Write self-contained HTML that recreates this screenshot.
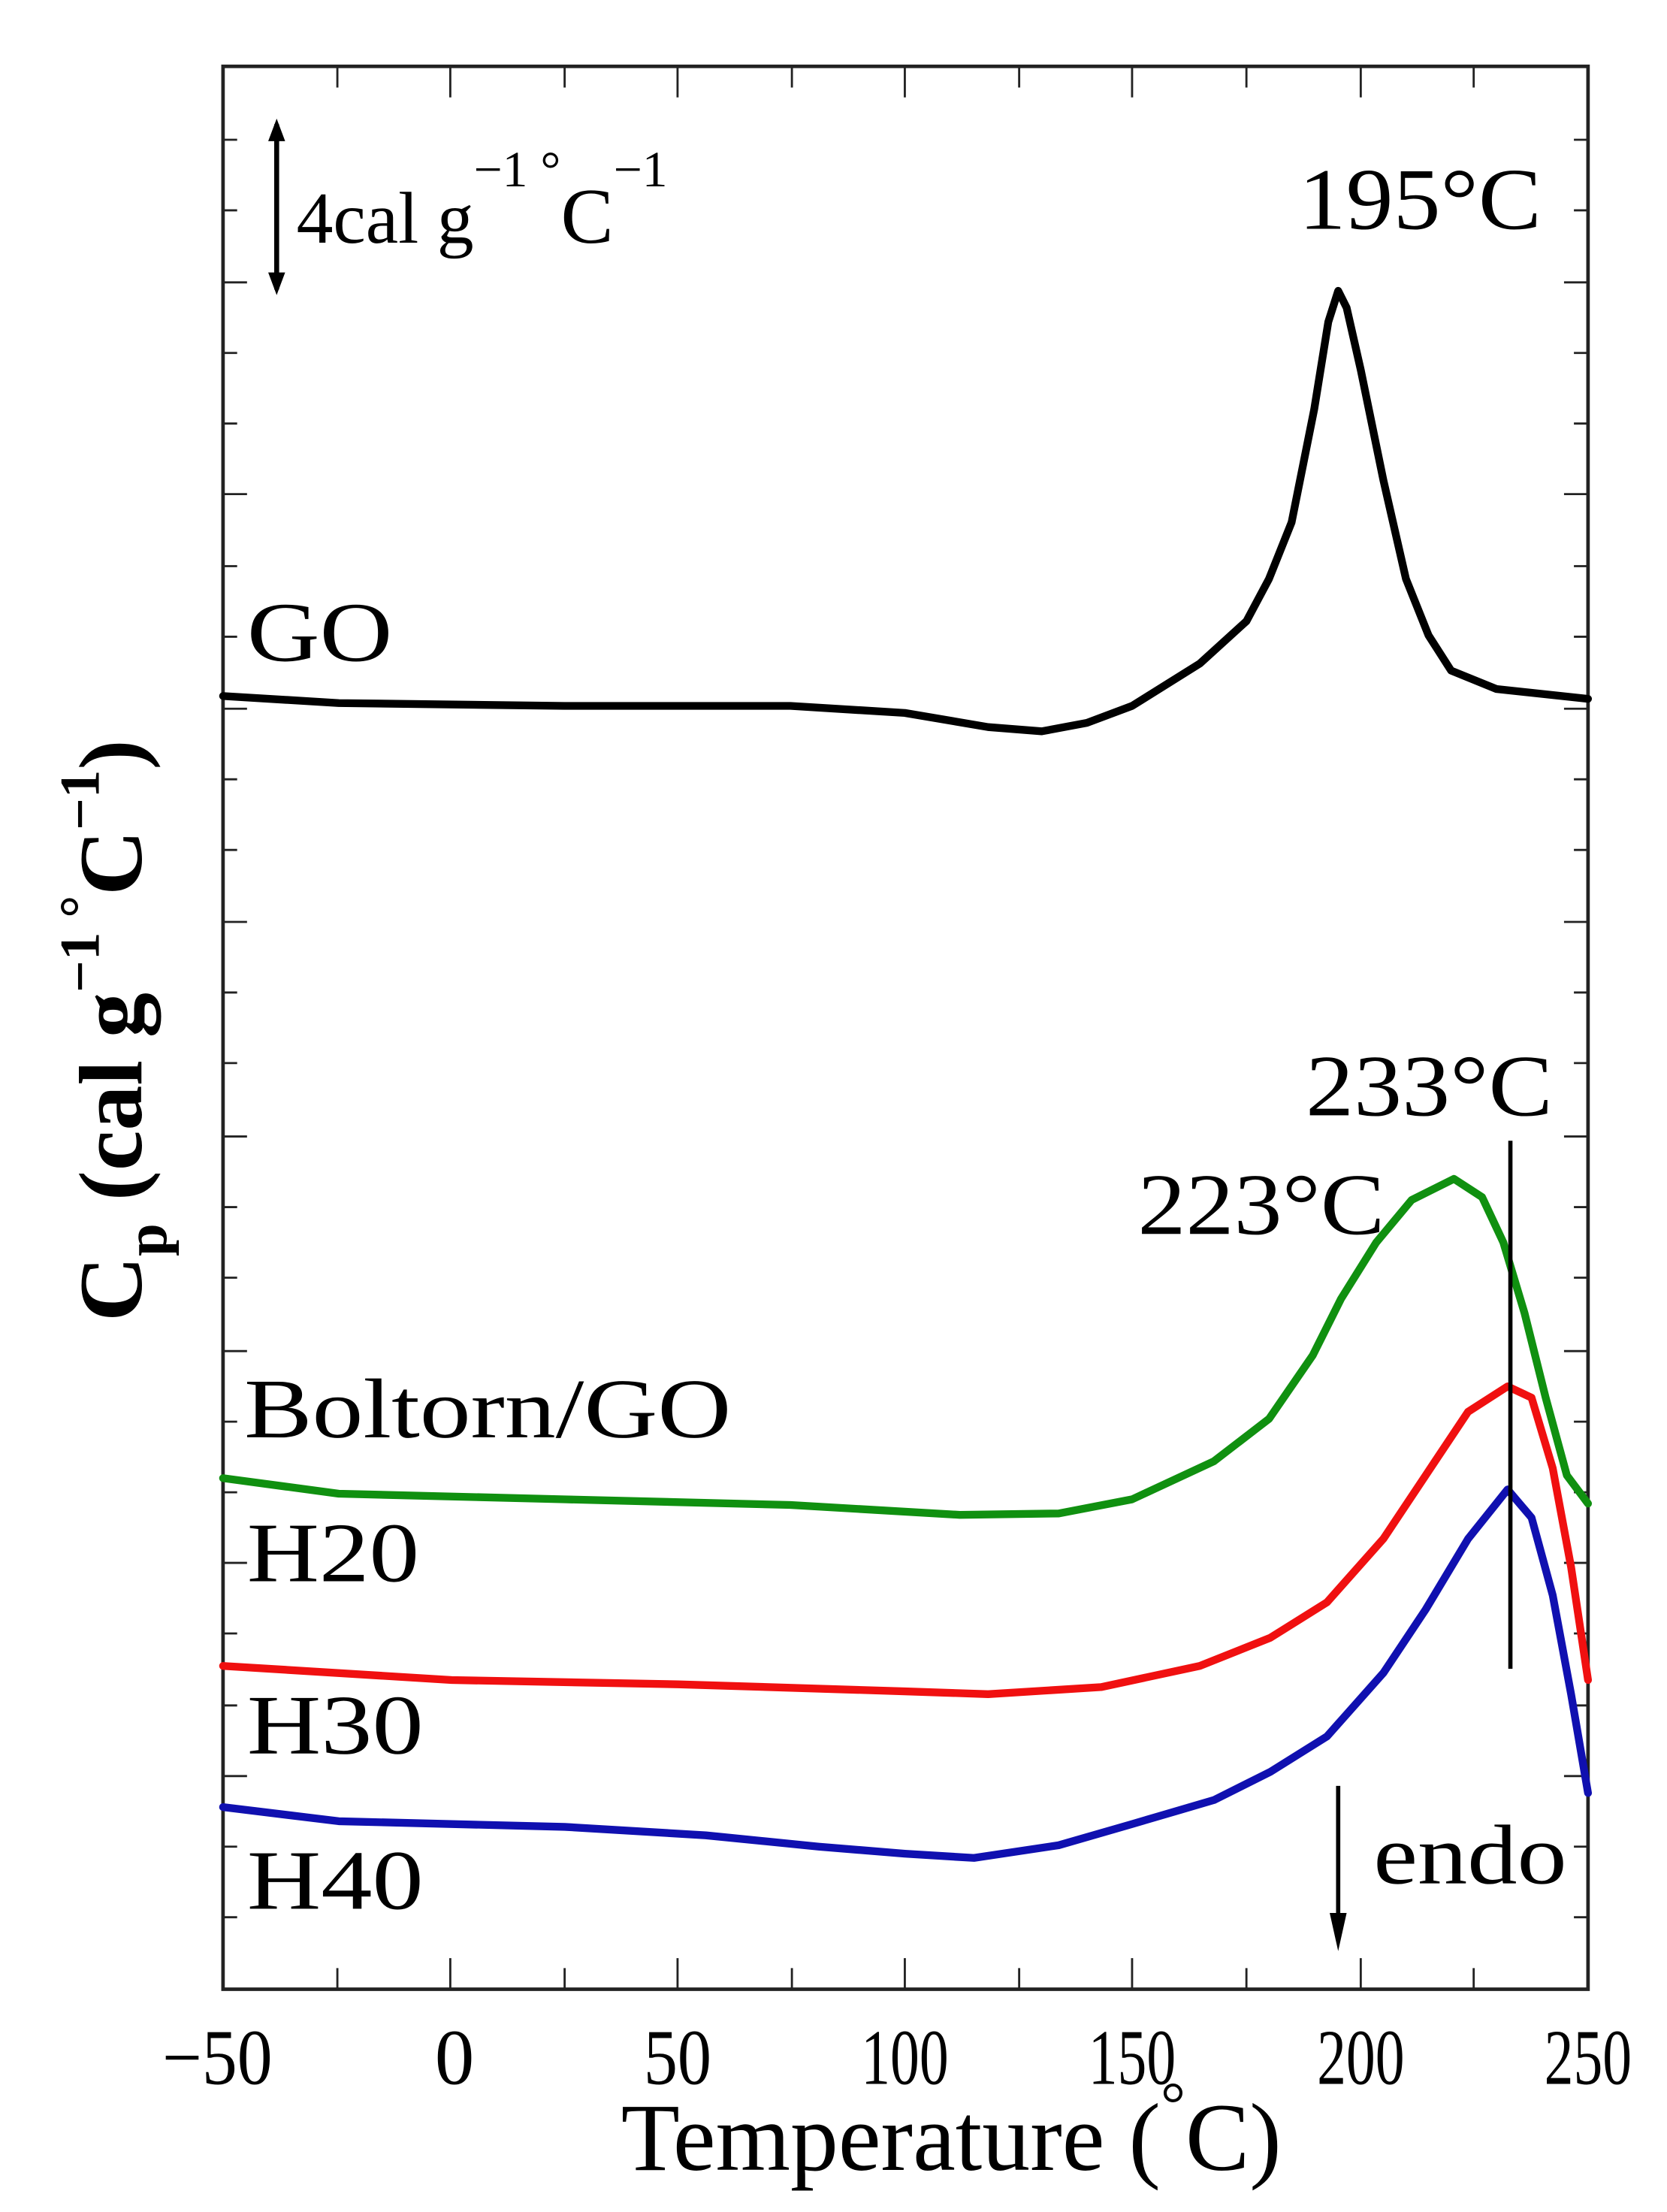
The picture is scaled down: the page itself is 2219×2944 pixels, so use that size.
<!DOCTYPE html>
<html><head><style>html,body{margin:0;padding:0;background:#fff}svg{display:block}</style></head><body>
<svg width="2219" height="2944" viewBox="0 0 2219 2944" xmlns="http://www.w3.org/2000/svg">
<g transform="scale(1.879)" font-family="Liberation Serif, serif" fill="#000">
<rect x="158" y="47" width="967" height="1362" fill="none" stroke="#222" stroke-width="2.5"/>
<g stroke="#222" stroke-width="1.5">
<path d="M239,1409v-15M319,1409v-22M400,1409v-15M480,1409v-22M561,1409v-15M641,1409v-22M722,1409v-15M802,1409v-22M883,1409v-15M964,1409v-22M1044,1409v-15"/>
<path d="M239,47v15M319,47v22M400,47v15M480,47v22M561,47v15M641,47v22M722,47v15M802,47v22M883,47v15M964,47v22M1044,47v15"/>
<path d="M158,99h10M158,149h10M158,200h17M158,250h10M158,300h10M158,350h17M158,401h10M158,451h10M158,502h17M158,552h10M158,602h10M158,653h17M158,703h10M158,753h10M158,805h17M158,855h10M158,905h10M158,957h17M158,1007h10M158,1057h10M158,1107h17M158,1157h10M158,1208h10M158,1258h17M158,1308h10M158,1358h10"/>
<path d="M1125,99h-10M1125,149h-10M1125,200h-17M1125,250h-10M1125,300h-10M1125,350h-17M1125,401h-10M1125,451h-10M1125,502h-17M1125,552h-10M1125,602h-10M1125,653h-17M1125,703h-10M1125,753h-10M1125,805h-17M1125,855h-10M1125,905h-10M1125,957h-17M1125,1007h-10M1125,1057h-10M1125,1107h-17M1125,1157h-10M1125,1208h-10M1125,1258h-17M1125,1308h-10M1125,1358h-10"/>
</g>
<g fill="none" stroke-width="5.5" stroke-linejoin="round" stroke-linecap="round">
<polyline stroke="#000" points="158,493 240,498 400,500 560,500 641,505 700,515 738,518 770,512 802,500 850,470 883,440 899,410 915,370 931,290 941,228 948,206 954,218 964,262 980,340 996,410 1012,450 1028,475 1060,488 1125,495"/>
<polyline stroke="#109010" points="158,1047 240,1058 400,1062 560,1066 680,1073 750,1072 802,1062 860,1035 899,1005 930,960 950,920 975,880 1000,850 1030,835 1050,848 1065,880 1080,930 1095,990 1110,1045 1125,1065"/>
<polyline stroke="#f01010" points="158,1180 320,1190 480,1193 641,1198 700,1200 780,1195 850,1180 900,1160 940,1135 980,1090 1010,1045 1040,1000 1068,982 1085,990 1100,1040 1113,1110 1125,1190"/>
<polyline stroke="#1010b0" points="158,1280 240,1290 400,1294 500,1300 580,1308 641,1313 690,1316 750,1307 802,1292 860,1275 900,1255 940,1230 980,1185 1010,1140 1040,1090 1068,1055 1085,1075 1100,1130 1113,1200 1125,1270"/>
</g>
<line x1="1070" y1="808" x2="1070" y2="1182" stroke="#000" stroke-width="3"/>
<line x1="196" y1="88" x2="196" y2="205" stroke="#000" stroke-width="3.5"/>
<path d="M190,100 L196,84 L202,100Z M190,193 L196,209 L202,193Z"/>
<line x1="948" y1="1265" x2="948" y2="1360" stroke="#000" stroke-width="3"/>
<path d="M942,1355 L948,1382 L954,1355Z"/>
<text x="210" y="172" font-size="52">4<tspan font-size="52">cal g</tspan><tspan font-size="36" dy="-40">−1 °</tspan><tspan font-size="56" dy="40">C</tspan><tspan font-size="36" dy="-40">−1</tspan></text>
<text x="920" y="162" font-size="62" textLength="172" lengthAdjust="spacingAndGlyphs">195°C</text>
<text x="925" y="790" font-size="62" textLength="175" lengthAdjust="spacingAndGlyphs">233°C</text>
<text x="806" y="874" font-size="62" textLength="175" lengthAdjust="spacingAndGlyphs">223°C</text>
<text x="175" y="468" font-size="60" textLength="103" lengthAdjust="spacingAndGlyphs">GO</text>
<text x="173" y="1018" font-size="60" textLength="345" lengthAdjust="spacingAndGlyphs">Boltorn/GO</text>
<text x="175" y="1120" font-size="60" textLength="122" lengthAdjust="spacingAndGlyphs">H20</text>
<text x="175" y="1242" font-size="60" textLength="125" lengthAdjust="spacingAndGlyphs">H30</text>
<text x="175" y="1352" font-size="60" textLength="125" lengthAdjust="spacingAndGlyphs">H40</text>
<text x="973" y="1334" font-size="60" textLength="137" lengthAdjust="spacingAndGlyphs">endo</text>
<g font-size="56">
<text x="115" y="1476" textLength="78" lengthAdjust="spacingAndGlyphs">−50</text>
<text x="308" y="1476">0</text>
<text x="456" y="1476" textLength="48" lengthAdjust="spacingAndGlyphs">50</text>
<text x="610" y="1476" textLength="62" lengthAdjust="spacingAndGlyphs">100</text>
<text x="771" y="1476" textLength="62" lengthAdjust="spacingAndGlyphs">150</text>
<text x="933" y="1476" textLength="62" lengthAdjust="spacingAndGlyphs">200</text>
<text x="1094" y="1476" textLength="62" lengthAdjust="spacingAndGlyphs">250</text>
</g>
<text x="440" y="1537" font-size="68">Temperature (<tspan font-size="44" dy="-32">°</tspan><tspan dy="32">C)</tspan></text>
<text transform="translate(100,730) rotate(-90)" font-size="64" text-anchor="middle" font-weight="bold">C<tspan font-size="42" dy="18">p</tspan><tspan dy="-18"> (cal g</tspan><tspan font-size="40" dy="-30">−1 °</tspan><tspan dy="30">C</tspan><tspan font-size="40" dy="-30">−1</tspan><tspan dy="30">)</tspan></text>
</g>
</svg>
</body></html>
